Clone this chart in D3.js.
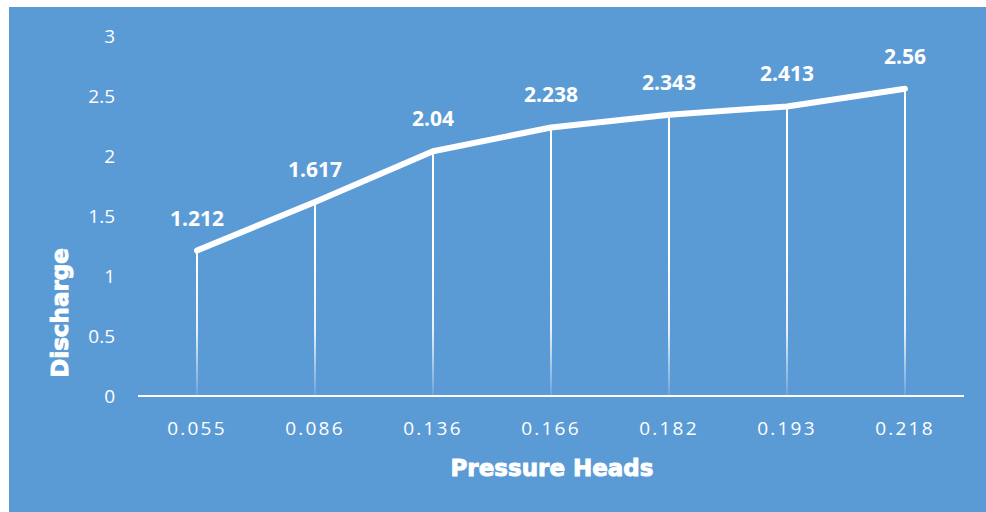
<!DOCTYPE html>
<html><head><meta charset="utf-8">
<script src="https://cdn.jsdelivr.net/npm/d3@7"></script>
<style>body{margin:0;background:#fff;}svg{display:block;}</style>
</head><body>
<svg id="c" width="986" height="512"></svg>
<script>
const categories = ["0.055","0.086","0.136","0.166","0.182","0.193","0.218"];
const discharge = [1.212,1.617,2.04,2.238,2.343,2.413,2.56];
const yTicks = [0,0.5,1,1.5,2,2.5,3];
const xTitle = "Pressure Heads";
const yTitle = "Discharge";

const svg = d3.select("#c");
const bg = "#5B9BD5";
svg.append("rect").attr("x",9).attr("y",7).attr("width",977).attr("height",505).attr("fill",bg);

const x = d3.scaleBand().domain(categories).range([138,964]);
const y = d3.scaleLinear().domain([0,3]).range([396,36]);

const defs = svg.append("defs");
const g = defs.append("linearGradient").attr("id","drop").attr("gradientUnits","userSpaceOnUse")
  .attr("x1",0).attr("x2",0).attr("y1",y(1.2)).attr("y2",y(0));
g.append("stop").attr("offset","0%").attr("stop-color","#fff").attr("stop-opacity",1);
g.append("stop").attr("offset","55%").attr("stop-color","#fff").attr("stop-opacity",0.85);
g.append("stop").attr("offset","100%").attr("stop-color","#fff").attr("stop-opacity",0.1);

const cx = d => x(d) + x.bandwidth()/2;
const data = categories.map((c,i)=>({c, v:discharge[i]}));

// drop lines
svg.append("g").selectAll("line").data(data).join("line")
  .attr("x1",d=>cx(d.c)).attr("x2",d=>cx(d.c))
  .attr("y1",d=>y(d.v)).attr("y2",y(0))
  .attr("stroke","url(#drop)").attr("stroke-width",2);

// x axis line
svg.append("line").attr("x1",138).attr("x2",964).attr("y1",y(0)).attr("y2",y(0))
  .attr("stroke","#fff").attr("stroke-width",2);

// y axis tick labels
const yAxis = d3.axisLeft(y).tickValues(yTicks).tickSize(0).tickPadding(0).tickFormat(d3.format("~g"));
const ya = svg.append("g").attr("transform","translate(115,0)").call(yAxis);
ya.select(".domain").remove();
ya.selectAll("text").attr("fill","#fff").attr("font-family","'Open Sans', sans-serif").attr("font-size",19).attr("dy","0.35em");

// x axis tick labels
const xAxis = d3.axisBottom(x).tickSize(0).tickPadding(0);
const xa = svg.append("g").attr("transform",`translate(0,${y(0)})`).call(xAxis);
xa.select(".domain").remove();
xa.selectAll("text").attr("fill","#fff").attr("font-family","'Open Sans', sans-serif").attr("font-size",19)
  .attr("letter-spacing","2.2px").attr("y",34).attr("dy",0).attr("dominant-baseline","middle");

// line
svg.append("path").datum(data)
  .attr("d", d3.line().x(d=>cx(d.c)).y(d=>y(d.v)))
  .attr("fill","none").attr("stroke","#fff").attr("stroke-width",6).attr("stroke-linecap","round").attr("stroke-linejoin","round");

// data labels
svg.append("g").selectAll("text").data(data).join("text")
  .attr("x",d=>cx(d.c)).attr("y",d=>y(d.v)-25)
  .attr("text-anchor","middle").attr("fill","#fff")
  .attr("font-family","'Open Sans', sans-serif").attr("font-weight","bold").attr("font-size",21)
  .text(d=>d.v);

// axis titles
svg.append("text").attr("x",552).attr("y",476).attr("text-anchor","middle").attr("fill","#fff")
  .attr("font-family","'DejaVu Sans', sans-serif").attr("font-weight","900").attr("font-size",23)
  .attr("stroke","#fff").attr("stroke-width",0.9)
  .text(xTitle);
svg.append("text").attr("transform","translate(68,313) rotate(-90)").attr("text-anchor","middle").attr("fill","#fff")
  .attr("font-family","'DejaVu Sans', sans-serif").attr("font-weight","900").attr("font-size",23)
  .attr("stroke","#fff").attr("stroke-width",0.9)
  .text(yTitle);
</script>
</body></html>
